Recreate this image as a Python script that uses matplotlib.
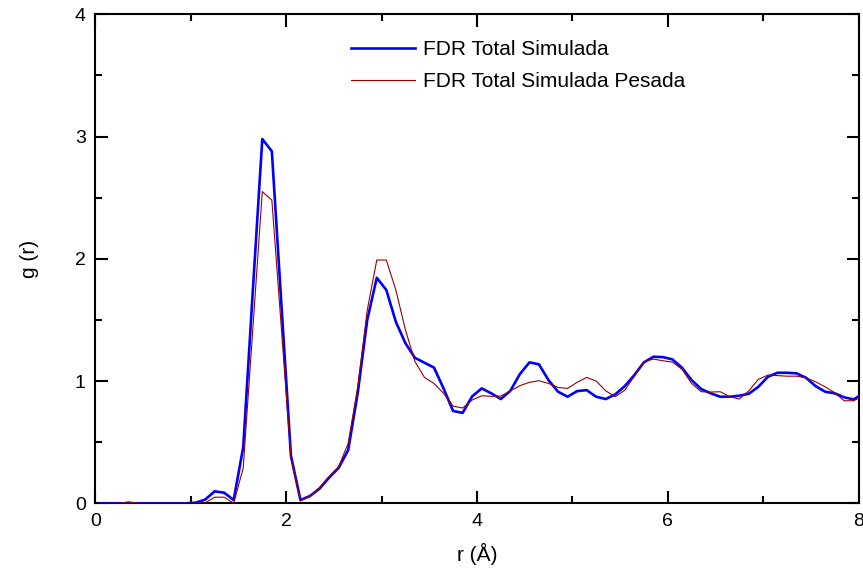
import numpy as np
import matplotlib
matplotlib.use("Agg")
import matplotlib.pyplot as plt
from matplotlib.ticker import MultipleLocator

plt.rcParams['font.family'] = ['Liberation Sans', 'DejaVu Sans']

r = [0.05 + 0.1 * k for k in range(81)]

g_total = [
    0.0, 0.0, 0.0, 0.0, 0.0, 0.0, 0.0, 0.0, 0.0, 0.0,          # 0.05-0.95
    0.005, 0.03, 0.098, 0.087, 0.027, 0.46, 1.73, 2.98, 2.88, 1.63,  # 1.05-1.95
    0.39, 0.027, 0.06, 0.12, 0.21, 0.29, 0.435, 0.90, 1.50, 1.845,  # 2.05-2.95
    1.745, 1.485, 1.31, 1.19, 1.15, 1.11, 0.94, 0.755, 0.74, 0.875,  # 3.05-3.95
    0.94, 0.90, 0.853, 0.92, 1.057, 1.153, 1.137, 1.008, 0.913, 0.872,  # 4.05-4.95
    0.918, 0.926, 0.872, 0.853, 0.891, 0.959, 1.049, 1.153, 1.199, 1.196,  # 5.05-5.95
    1.177, 1.109, 1.008, 0.935, 0.90, 0.872, 0.872, 0.88, 0.896, 0.953,  # 6.05-6.95
    1.035, 1.068, 1.068, 1.063, 1.027, 0.959, 0.913, 0.90, 0.867, 0.85,  # 7.05-7.95
    0.90,
]

g_pesada = [
    0.0, 0.0, 0.0, 0.012, 0.0, 0.0, 0.0, 0.0, 0.0, 0.0,
    0.0, 0.003, 0.05, 0.05, 0.0, 0.29, 1.42, 2.55, 2.48, 1.43,
    0.37, 0.02, 0.06, 0.13, 0.22, 0.30, 0.49, 0.95, 1.58, 1.99,
    1.99, 1.745, 1.42, 1.16, 1.03, 0.98, 0.90, 0.795, 0.78, 0.845,
    0.88, 0.875, 0.877, 0.92, 0.962, 0.99, 1.003, 0.981, 0.948, 0.94,
    0.99, 1.03, 1.0, 0.92, 0.872, 0.926, 1.04, 1.158, 1.18, 1.166,
    1.155, 1.096, 0.981, 0.913, 0.91, 0.913, 0.872, 0.853, 0.92, 1.014,
    1.049, 1.045, 1.04, 1.04, 1.027, 0.994, 0.953, 0.905, 0.839, 0.839,
    0.88,
]

labels = ["FDR Total Simulada", "FDR Total Simulada Pesada"]

fig = plt.figure(figsize=(8.63, 5.73), dpi=100)
ax = fig.add_axes([0.1105, 0.1216, 0.8843, 0.8534])

ax.plot(r, g_total, color='#0000ff', lw=1.9, label=labels[0], zorder=3)
ax.plot(r, g_pesada, color='#990000', lw=0.8, label=labels[1], zorder=4)

ax.set_xlim(0, 8)
ax.set_ylim(0, 4)
ax.xaxis.set_major_locator(MultipleLocator(2))
ax.xaxis.set_minor_locator(MultipleLocator(1))
ax.yaxis.set_major_locator(MultipleLocator(1))
ax.yaxis.set_minor_locator(MultipleLocator(0.5))
ax.tick_params(which='both', direction='in', top=True, right=True, width=1.5,
               labelsize=14, pad=7)
ax.tick_params(which='major', length=9)
ax.tick_params(which='minor', length=5)
for s in ax.spines.values():
    s.set_linewidth(1.5)

ax.set_xlabel("r (Å)", fontsize=15, labelpad=9)
ax.set_ylabel("g (r)", fontsize=15, labelpad=26)

leg = ax.legend(loc='upper left', bbox_to_anchor=(0.31, 0.985), frameon=False,
                fontsize=15, handlelength=3.1, handletextpad=0.35,
                labelspacing=0.6)

fig.savefig("out.png", dpi=100)
